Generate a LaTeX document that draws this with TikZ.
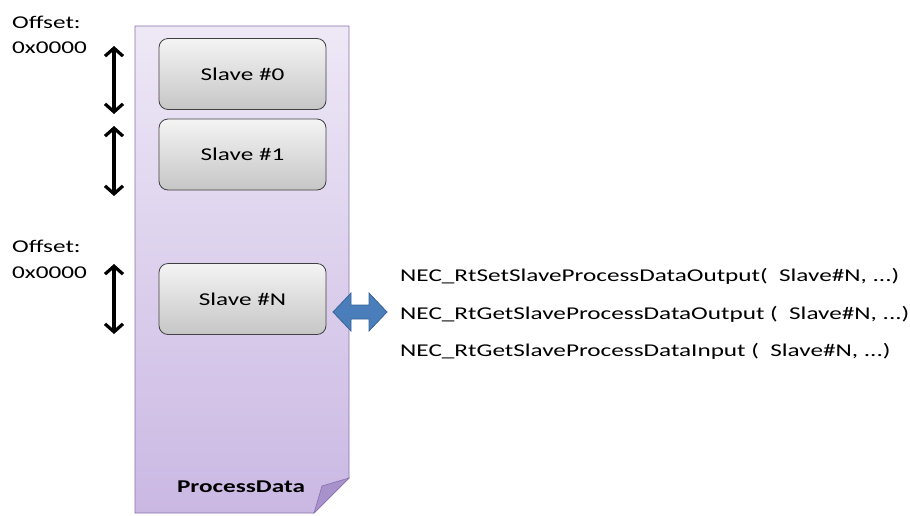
\documentclass[tikz,border=0pt]{standalone}
\usepackage{fontspec}
\setmainfont[FakeStretch=1.40]{Carlito}
\usetikzlibrary{arrows.meta,shadings}
\definecolor{docTop}{HTML}{EEE8F6}
\definecolor{docBot}{HTML}{CAB8E3}
\definecolor{docLine}{HTML}{8B6FAE}
\definecolor{foldCol}{HTML}{A892CB}
\definecolor{boxTop}{HTML}{F4F4F4}
\definecolor{boxBot}{HTML}{C6C6C6}
\definecolor{blueFill}{HTML}{4A7EBB}
\definecolor{blueLine}{HTML}{3A6496}
\tikzset{
  slavebox/.style={draw=black!75, line width=0.8pt, rounded corners=9pt, minimum width=167pt, minimum height=71pt, top color=boxTop, bottom color=boxBot, font=\fontsize{18}{20}\selectfont, inner sep=0pt},
  offarrow/.style={line width=3.2pt, {Straight Barb[length=8pt,width=18pt]}-{Straight Barb[length=8pt,width=18pt]}},
  lbl/.style={font=\fontsize{18}{20}\selectfont, anchor=west, inner sep=0pt},
}
\begin{document}
\begin{tikzpicture}[x=1pt,y=-1pt]
\useasboundingbox (0,0) rectangle (910,515);
% document with folded corner
\shade[top color=docTop, bottom color=docBot, draw=docLine, line width=0.8pt]
  (135,26) -- (349,26) -- (349,478) -- (314,513) -- (135,513) -- cycle;
\fill[foldCol, draw=docLine, line width=0.6pt] (349,478) -- (322,486) -- (314,513) -- cycle;
\node[font=\bfseries\fontsize{18}{20}\selectfont, inner sep=0pt] (pd) at (241,487) {ProcessData};
% slave boxes
\node[slavebox] (s0) at (242.5,74) {Slave \#0};
\node[slavebox] (s1) at (242.5,154.5) {Slave \#1};
\node[slavebox] (sN) at (242.5,299) {Slave \#N};
% offsets
\node[lbl] (o1) at (12,22) {Offset:};
\node[lbl] (h1) at (12,48) {0x0000};
\node[lbl] (o2) at (12,246) {Offset:};
\node[lbl] (h2) at (12,273) {0x0000};
% vertical arrows
\coordinate (a0t) at (114,46);
\coordinate (a0b) at (114,114);
\coordinate (a1t) at (114,126);
\coordinate (a1b) at (114,196);
\coordinate (aNt) at (114,264);
\coordinate (aNb) at (114,334);
\draw[offarrow] (a0t) -- (a0b);
\draw[offarrow] (a1t) -- (a1b);
\draw[offarrow] (aNt) -- (aNb);
% blue block arrow
\coordinate (bl) at (333,312);
\coordinate (br) at (387,312);
\fill[blueFill, draw=blueLine, line width=0.8pt]
  (bl) -- ++(18,-19) -- ++(0,12) -- ++(18,0) -- ++(0,-12) -- (br) -- ++(-18,19) -- ++(0,-12) -- ++(-18,0) -- ++(0,12) -- cycle;
% function names
\node[lbl] (f1) at (400,276) {NEC\_RtSetSlaveProcessDataOutput(\ \ Slave\#N, ...)};
\node[lbl] (f2) at (400,314) {NEC\_RtGetSlaveProcessDataOutput (\ \ Slave\#N, ...)};
\node[lbl] (f3) at (400,351) {NEC\_RtGetSlaveProcessDataInput (\ \ Slave\#N, ...)};
\end{tikzpicture}
\end{document}
